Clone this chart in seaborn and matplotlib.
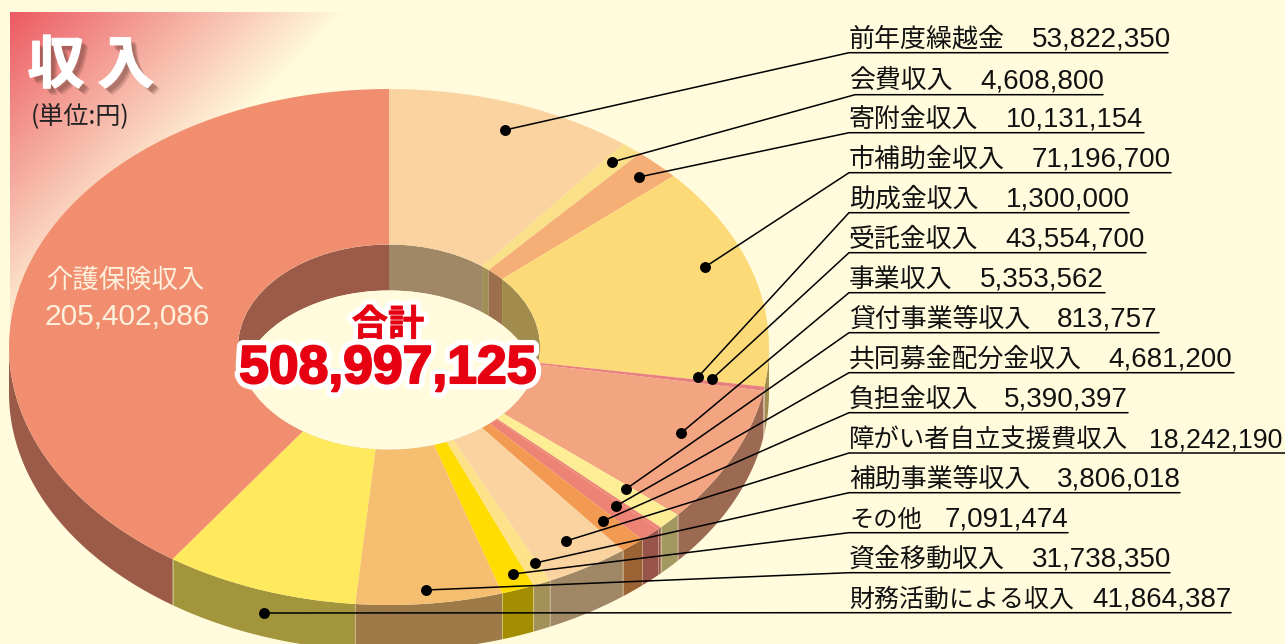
import numpy as np
import matplotlib
matplotlib.use("Agg")
import matplotlib.pyplot as plt
import matplotlib.patheffects as pe
from matplotlib.patches import Ellipse
from matplotlib.colors import to_rgb
import seaborn as sns

# data
names = ["前年度繰越金", "会費収入", "寄附金収入", "市補助金収入", "助成金収入", "受託金収入",
         "事業収入", "貸付事業等収入", "共同募金配分金収入", "負担金収入", "障がい者自立支援費収入",
         "補助事業等収入", "その他", "資金移動収入", "財務活動による収入"]
amounts = [53822350, 4608800, 10131154, 71196700, 1300000, 43554700,
           5353562, 813757, 4681200, 5390397, 18242190,
           3806018, 7091474, 31738350, 41864387]
main_name = "介護保険収入"
main_amount = 205402086
total = 508997125

colors = ["#FAD3A0", "#FBE08A", "#F4AE76", "#FCDA78", "#E87F80", "#F3A481",
          "#FDEE96", "#EE8576", "#ED8375", "#F29A52", "#FAD3A0",
          "#FDE28A", "#FFDD00", "#F6BE70", "#FFE95C", "#F28E70"]

# layout of the label column, in pixels
line_y = [52.7, 94.7, 132.7, 172.7, 212.7, 252.7, 292.7, 332.7, 372.7, 412.7, 453, 492.7, 532.7, 572.7, 612.7]
line_end = [1168, 1103, 1144, 1171, 1129, 1146, 1105, 1159, 1234, 1128, 1285, 1180, 1068, 1170, 1231]
line_start = [849, 855, 849, 849, 849, 849, 849, 849, 849, 849, 849, 849, 849, 849, 849]
value_x = [1032, 980, 1006, 1032, 1006, 1005, 980, 1057, 1108, 1004, 1149, 1057, 945, 1032, 1092]
value_size = [20, 20, 19.6, 20, 20, 20, 20, 20, 20, 20, 19.3, 20, 20, 20, 20]
name_w = [153, 101, 127, 153, 127, 127, 101, 178, 229, 127, 269, 178, 67, 153, 212]
dot_x = [505, 612, 639, 705, 698, 712, 681, 626, 616, 603, 566, 535, 513, 426, 264]
dot_y = [130, 162, 177, 267, 377, 379, 433, 489, 506, 521, 541, 563, 574, 590, 613]

W, H = 1285, 644
cx, cy, rx, ry = 389, 347, 380, 258
hole = 151 / 380
depth = 46 / ry
cream = "#FFFBDC"
jp = ["Noto Sans CJK JP", "DejaVu Sans"]
latin = "Liberation Sans"

sns.set_theme(style="white")
fig = plt.figure(figsize=(W / 100, H / 100), dpi=100, facecolor=cream)

# background with the corner gradient
bg = fig.add_axes([0, 0, 1, 1], zorder=0)
yy, xx = np.mgrid[0:H, 0:W]
t = np.clip((xx - 10) / 335 + (yy - 12) / 340, 0, 1)
c0 = np.array(to_rgb("#EC5A63"))
c1 = np.array(to_rgb(cream))
img = c0 + (c1 - c0) * t[..., None]
img[(xx < 10) | (yy < 12)] = c1
bg.imshow(img, extent=(0, W, H, 0), aspect="auto", interpolation="bilinear")
bg.axis("off")

# the pie, unit circle stretched to the ellipse by the axes limits
ax = fig.add_axes([0, 0, 1, 1], zorder=1)
values = np.array(amounts + [main_amount], dtype=float)
edges = 90 - 360 * np.concatenate([[0], np.cumsum(values)]) / values.sum()

for i, c in enumerate(colors):
    side = np.array(to_rgb(c)) * 0.64
    a, b = edges[i], edges[i + 1]
    up, lo = min(a, 0), max(b, -180)
    if lo < up:
        th = np.radians(np.linspace(up, lo, 80))
        xs = np.concatenate([np.cos(th), np.cos(th[::-1])])
        ys = np.concatenate([np.sin(th), np.sin(th[::-1]) - depth])
        ax.fill(xs, ys, color=side, lw=0, zorder=1)
        ax.plot([np.cos(th[0])] * 2, [np.sin(th[0]), np.sin(th[0]) - depth],
                color=cream, lw=0.6, alpha=0.45, zorder=1.1)

ax.pie(values, colors=colors, startangle=90, counterclock=False, radius=1,
       wedgeprops=dict(width=1 - hole, linewidth=0, zorder=2))

hole_clip = Ellipse((0, 0), 2 * hole, 2 * hole, transform=ax.transData)
for i, c in enumerate(colors):
    side = np.array(to_rgb(c)) * 0.64
    th = np.radians(np.linspace(edges[i], edges[i + 1], 80))
    xs = np.concatenate([np.cos(th), np.cos(th[::-1])]) * hole
    ys = np.concatenate([np.sin(th) * hole, np.sin(th[::-1]) * hole - depth])
    wall = ax.fill(xs, ys, color=side, lw=0, zorder=3)[0]
    wall.set_clip_path(hole_clip)
floor = Ellipse((0, -depth), 2 * hole, 2 * hole, color=cream, lw=0, zorder=4)
ax.add_patch(floor)
floor.set_clip_path(hole_clip)

ax.set_aspect("auto")
ax.set_xlim(-cx / rx, (W - cx) / rx)
ax.set_ylim((cy - H) / ry, cy / ry)
ax.axis("off")

# texts, leaders and dots in pixel coordinates
top = fig.add_axes([0, 0, 1, 1], zorder=2)
top.patch.set_alpha(0)

for i in range(len(names)):
    top.plot([dot_x[i], line_start[i], line_end[i]], [dot_y[i], line_y[i], line_y[i]],
             color="black", lw=1.1, solid_joinstyle="miter")
    size = 18.7 * min(1, (name_w[i] / (25.5 * len(names[i]))) ** 0.5)
    top.text(849, line_y[i] - 6, names[i], family=jp, fontsize=size, color="#111111",
             va="baseline", ha="left")
    top.text(value_x[i], line_y[i] - 6, f"{amounts[i]:,}", family=latin, fontsize=value_size[i],
             color="#111111", va="baseline", ha="left")

sns.scatterplot(x=dot_x, y=dot_y, ax=top, color="black", s=62, linewidth=0, zorder=5)

soft = [pe.SimplePatchShadow(offset=(5, -5), shadow_rgbFace="#7A4A40", alpha=0.2),
        pe.SimplePatchShadow(offset=(4, -4), shadow_rgbFace="#7A4A40", alpha=0.25),
        pe.SimplePatchShadow(offset=(3, -3), shadow_rgbFace="#7A4A40", alpha=0.3),
        pe.Stroke(linewidth=1, foreground="white"), pe.Normal()]
top.text(91, 66, "収 入", family=jp, fontsize=41, fontweight="bold", color="white",
         ha="center", va="center", path_effects=soft)
top.text(80, 116, "(単位:円)", family=jp, fontsize=18, color="#222222", ha="center", va="center")

top.text(125, 280, main_name, family=jp, fontsize=19, color="#FDF0DC", ha="center", va="center")
top.text(127, 317, f"{main_amount:,}", family=latin, fontsize=21.5, color="#FDF0DC", ha="center", va="center")

halo_jp = [pe.Stroke(linewidth=8, foreground="white"),
           pe.Stroke(linewidth=0.5, foreground="#E60012"), pe.Normal()]
halo = [pe.Stroke(linewidth=9, foreground="white"),
        pe.Stroke(linewidth=1.5, foreground="#E60012"), pe.Normal()]
top.text(388, 325, "合計", family=jp, fontsize=26, fontweight="bold", color="#E60012",
         ha="center", va="center", path_effects=halo_jp)
top.text(388, 369, f"{total:,}", family=latin, fontsize=38.5, fontweight="bold", color="#E60012",
         ha="center", va="center", path_effects=halo)

top.set_xlim(0, W)
top.set_ylim(H, 0)
top.axis("off")

fig.savefig("out.png", dpi=100, facecolor=cream)
